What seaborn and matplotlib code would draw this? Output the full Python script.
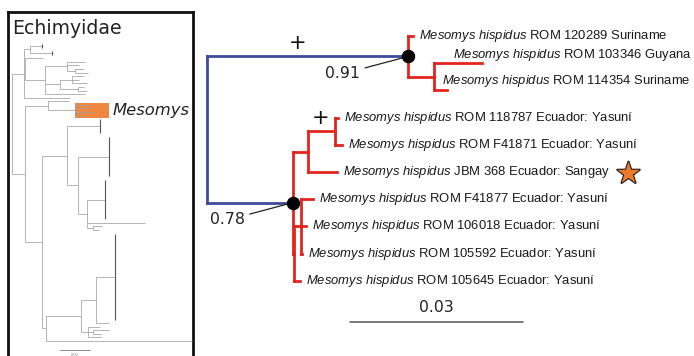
import matplotlib
matplotlib.use("Agg")
import matplotlib.pyplot as plt
import matplotlib.patheffects as pe
from matplotlib.collections import LineCollection
from matplotlib.patches import Rectangle
import seaborn as sns
import pandas as pd

# ---- data -------------------------------------------------------------
# right tree: (name, branch length in subs/site, children | None for a tip)
SPECIES = "Mesomys hispidus"
MESOMYS_TREE = ("root", 0.0, [
    ("guiana", 0.0349, [
        ("ROM 120289 Suriname", 0.0009, None),
        ("g1", 0.0045, [
            ("ROM 103346 Guyana", 0.0083, None),
            ("ROM 114354 Suriname", 0.0023, None)])]),
    ("ecuador", 0.0149, [
        ("a", 0.0026, [
            ("a1", 0.0047, [
                ("ROM 118787 Ecuador: Yasuní", 0.0005, None),
                ("ROM F41871 Ecuador: Yasuní", 0.0012, None)]),
            ("JBM 368 Ecuador: Sangay", 0.0050, None)]),
        ("c", 0.0002, [
            ("b", 0.0012, [
                ("ROM F41877 Ecuador: Yasuní", 0.0021, None),
                ("ROM 106018 Ecuador: Yasuní", 0.0009, None),
                ("ROM 105592 Ecuador: Yasuní", 0.0002, None)]),
            ("ROM 105645 Ecuador: Yasuní", 0.0010, None)])])])

SUPPORT = {"guiana": "0.91", "ecuador": "0.78"}
PLUS_BRANCHES = ["guiana", "a1"]
STAR_TIPS = ["JBM 368 Ecuador: Sangay"]
RIGHT_SCALE = 0.03

# left overview tree (Echimyidae), lengths in 0.001 subs/site,
# tips carry the number of rows they cover (collapsed clades)
ECHIMYIDAE_TREE = ("root", 0, [
    ("top", 8, [
        ("t", 4, [("t_a", 8, 2), ("t_b", 15, 2)]),
        ("u", 1, [
            ("u1", 12, 1),
            ("v", 13, [
                ("v1", 15, [("v1_a", 12, 1), ("v1_b", 8, 1),
                            ("v1c", 5, [("v1c_a", 6, 1), ("v1c_b", 9, 1)])]),
                ("v2", 10, [("v2a", 8, [("v2a_a", 8, 1), ("v2a_b", 5, 1), ("v2a_c", 10, 1)]),
                            ("v2b", 12, [("v2b_a", 4, 1), ("v2b_b", 6, 1)])]),
                ("v3", 27, 1)])]),
        ("w", 31, 1)]),
    ("low", 9, [
        ("m0", 15, [("m0_a", 14, 1),
                    ("mesomys", 18, [("mes_a", 10, 1), ("mes_b", 8, 1),
                                     ("mes_c", 12, 1), ("mes_d", 6, 1)])]),
        ("l", 11, [
            ("j", 17, [
                ("j_a", 22, 5),
                ("i", 7, [
                    ("i_a", 21, 12),
                    ("h", 6, [("h_a", 12, 12), ("h_long", 39, 1),
                              ("g", 4, [("g_a", 6, 1), ("g_b", 4, 1)])])])]),
            ("k", 3, [
                ("f", 23, [
                    ("e", 10, [("e_a", 13, 25), ("e_b", 9, 1)]),
                    ("d", 5, [("d_a", 8, 1),
                              ("d1", 3, [("d1_a", 11, 1), ("d1_b", 6, 1)]),
                              ("d_b", 9, 1)])]),
                ("k_long", 97, 1)])])])])
LEFT_SCALE = 20
LEFT_SCALE_LABEL = "0.02"

RED = "#e2261d"
BLUE = "#3f4c9b"
ORANGE = "#ec7a2c"


def layout(tree):
    out = {"row": 0, "tips": [], "vert": [], "horiz": [], "nodes": {}, "span": {}, "maxx": {}}

    def walk(node, x_parent, depth):
        name, length, kids = node
        x = x_parent + length
        if isinstance(kids, list):
            ys = [walk(k, x, depth + 1) for k in kids]
            y = (ys[0] + ys[-1]) / 2
            out["vert"].append((x, ys[0], ys[-1], depth))
            out["span"][name] = (out["span"][kids[0][0]][0], out["span"][kids[-1][0]][1])
            out["maxx"][name] = max(out["maxx"][k[0]] for k in kids)
        else:
            rows = kids or 1
            start = out["row"]
            out["row"] += rows
            y = start + (rows - 1) / 2
            out["tips"].append((name, x, y, start, start + rows - 1))
            out["span"][name] = (start, start + rows - 1)
            out["maxx"][name] = x
        out["nodes"][name] = (x_parent, x, y, depth)
        if depth > 0:
            out["horiz"].append((x_parent, x, y, depth))
        return y

    walk(tree, 0.0, 0)
    return out


sns.set_theme(style="white")
plt.rcParams["font.family"] = ["DejaVu Sans"]
plt.rcParams["mathtext.fontset"] = "custom"
plt.rcParams["mathtext.rm"] = "Liberation Sans"
plt.rcParams["mathtext.it"] = "Liberation Sans:italic"

W, H = 694, 356
fig = plt.figure(figsize=(W / 100, H / 100), dpi=100)
fig.patch.set_facecolor("white")

# ---- left panel: Echimyidae overview ----------------------------------
ax_l = fig.add_axes([8 / W, -4 / H, 185 / W, 348 / H])
lt = layout(ECHIMYIDAE_TREE)
n_rows = lt["row"]
row_px = (341 - 44) / (n_rows - 1)
ax_l.set_xlim(-4 / 1.5, 181 / 1.5)
ax_l.set_ylim((n_rows - 1) + 19 / row_px, -32 / row_px)

segs = [[(x0, y), (x1, y)] for x0, x1, y, d in lt["horiz"]]
segs += [[(x, y0), (x, y1)] for x, y0, y1, d in lt["vert"]]
ax_l.add_collection(LineCollection(segs, colors="#a0a0a0", linewidths=0.55, zorder=3))
clusters = [[(x, s), (x, e)] for name, x, y, s, e in lt["tips"] if e > s]
ax_l.add_collection(LineCollection(clusters, colors="#555555", linewidths=0.8, zorder=3))

mx0, mx, my, _ = lt["nodes"]["mesomys"]
s0, s1 = lt["span"]["mesomys"]
box_w = lt["maxx"]["mesomys"] - mx + 11
ax_l.add_patch(Rectangle((mx, s0 - 0.6), box_w, s1 - s0 + 1.2,
                         facecolor=ORANGE, edgecolor="none", alpha=0.9, zorder=2))
ax_l.annotate("Mesomys", xy=(mx + box_w, (s0 + s1) / 2), xytext=(2, 0),
              textcoords="offset points", ha="left", va="center",
              fontsize=11.8, style="italic", color="#222222")
ax_l.text(0.022, 0.954, "Echimyidae", transform=ax_l.transAxes,
          ha="left", va="center", fontsize=13.6, color="#222222")

sb_y = n_rows - 1 + 2.4
ax_l.plot([32, 32 + LEFT_SCALE], [sb_y, sb_y], color="#8a8a8a", lw=0.7)
ax_l.annotate(LEFT_SCALE_LABEL, xy=(32 + LEFT_SCALE / 2, sb_y), xytext=(0, -2.5),
              textcoords="offset points", ha="center", va="top", fontsize=2.5, color="#777777")

ax_l.set_xticks([])
ax_l.set_yticks([])
for side in ["left", "right", "top"]:
    ax_l.spines[side].set_visible(True)
    ax_l.spines[side].set_color("#111111")
    ax_l.spines[side].set_linewidth(2)
ax_l.spines["bottom"].set_visible(False)

# ---- right panel: Mesomys hispidus tree -------------------------------
ax_r = fig.add_axes([195 / W, 0, 499 / W, 1])
rt = layout(MESOMYS_TREE)
px_unit = 173 / RIGHT_SCALE
tip_px = 27.2

segs, cols = [], []
for x0, x1, y, d in rt["horiz"]:
    segs.append([(x0, y), (x1, y)])
    cols.append(BLUE if d == 1 else RED)
for x, y0, y1, d in rt["vert"]:
    segs.append([(x, y0), (x, y1)])
    cols.append(BLUE if d == 0 else RED)
ax_r.add_collection(LineCollection(segs, colors=cols, linewidths=2.0,
                                   capstyle="projecting", zorder=3))

label_nudge = {"ROM 103346 Guyana": (-25.2, 5.8), "ROM 114354 Suriname": (-7.9, 6.5)}
sp = SPECIES.replace(" ", r"\ ")
for name, x, y, s, e in rt["tips"]:
    dx, dy = label_nudge.get(name, (0, 0))
    t = ax_r.annotate(r"$\mathit{" + sp + "}$ " + name, xy=(x, y),
                      xytext=(4.3 + dx, dy), textcoords="offset points",
                      ha="left", va="center", fontsize=9.4,
                      family="Liberation Sans", color="#1a1a1a", zorder=4)
    if name in STAR_TIPS:
        ax_r.annotate("★", xy=(1, 0.5), xycoords=t, xytext=(4, -2),
                      textcoords="offset points", ha="left", va="center",
                      fontsize=21, color=ORANGE,
                      path_effects=[pe.Stroke(linewidth=1.6, foreground="#1a1a1a"), pe.Normal()])

# support values
sup = pd.DataFrame({
    "node": list(SUPPORT.keys()),
    "x": [rt["nodes"][k][1] for k in SUPPORT],
    "y": [rt["nodes"][k][2] for k in SUPPORT],
    "pp": list(SUPPORT.values()),
})
sns.scatterplot(data=sup, x="x", y="y", ax=ax_r, s=80, color="black",
                edgecolor="black", legend=False, zorder=5)
for _, r in sup.iterrows():
    ax_r.annotate(r["pp"], xy=(r["x"], r["y"]), xytext=(-47, -12.5),
                  textcoords="offset points", ha="center", va="center",
                  fontsize=11.3, color="#222222",
                  arrowprops=dict(arrowstyle="-", color="#222222", lw=0.9,
                                  shrinkA=1, shrinkB=3))
ax_r.set_xlim(-12 / px_unit, 487 / px_unit)
ax_r.set_ylim(320 / tip_px, -36 / tip_px)
ax_r.set_axis_off()

# "+" marks on branches
for b in PLUS_BRANCHES:
    x0, x1, y, _ = rt["nodes"][b]
    ax_r.annotate("+", xy=(x0 + 0.45 * (x1 - x0), y), xytext=(0, 9.5),
                  textcoords="offset points", ha="center", va="center",
                  fontsize=15, color="#111111")

# scale bar
n_tips = len(rt["tips"])
sb_y = n_tips - 1 + 1.5
sb_x0 = 143 / px_unit
ax_r.plot([sb_x0, sb_x0 + RIGHT_SCALE], [sb_y, sb_y], color="#555555", lw=1.1)
ax_r.annotate(f"{RIGHT_SCALE:.2f}", xy=(sb_x0 + RIGHT_SCALE / 2, sb_y), xytext=(0, 10.5),
              textcoords="offset points", ha="center", va="center",
              fontsize=11.3, color="#222222")

fig.savefig("out.png", dpi=100, facecolor="white")
